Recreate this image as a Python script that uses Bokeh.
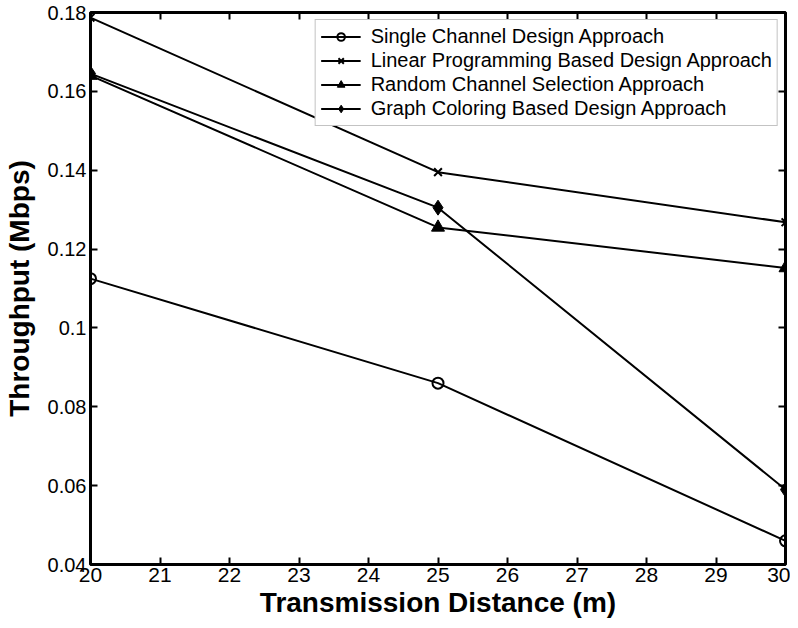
from bokeh.plotting import figure
from bokeh.models import Range1d, FixedTicker, LinearAxis, CustomJSTickFormatter, Legend
from bokeh.embed import file_html
from bokeh.resources import INLINE

distance = [20, 25, 30]
single_channel = [0.1125, 0.086, 0.046]
linear_programming = [0.1787, 0.1395, 0.1268]
random_channel = [0.164, 0.1255, 0.1152]
graph_coloring = [0.1645, 0.1305, 0.059]

x_ticks = list(range(20, 31))
y_ticks = [0.04, 0.06, 0.08, 0.10, 0.12, 0.14, 0.16, 0.18]

FONT = "Liberation Sans"

p = figure(width=790, height=620, output_backend="svg", toolbar_location=None,
           x_range=Range1d(20, 30), y_range=Range1d(0.04, 0.18),
           min_border_left=82, min_border_right=5, min_border_top=12, min_border_bottom=56)
p.grid.visible = False
p.outline_line_color = "black"
p.outline_line_width = 3
p.background_fill_color = "white"
p.border_fill_color = "white"

fmt = CustomJSTickFormatter(code="return String(Math.round(tick*100)/100)")

for ax in p.xaxis:
    ax.ticker = FixedTicker(ticks=x_ticks)
    ax.axis_label = "Transmission Distance (m)"
    ax.axis_label_text_font = FONT
    ax.axis_label_text_font_style = "bold"
    ax.axis_label_text_font_size = "28px"
    ax.axis_label_standoff = 2
    ax.major_label_text_font = FONT
    ax.major_label_text_font_size = "21px"
    ax.major_label_standoff = 3
for ax in p.yaxis:
    ax.ticker = FixedTicker(ticks=y_ticks)
    ax.formatter = fmt
    ax.axis_label = "Throughput (Mbps)"
    ax.axis_label_text_font = FONT
    ax.axis_label_text_font_style = "bold"
    ax.axis_label_text_font_size = "28px"
    ax.axis_label_standoff = 10
    ax.major_label_text_font = FONT
    ax.major_label_text_font_size = "20px"
    ax.major_label_standoff = 4
for ax in list(p.xaxis) + list(p.yaxis):
    ax.axis_line_color = None
    ax.major_tick_in = 7
    ax.major_tick_out = 0
    ax.major_tick_line_width = 2
    ax.minor_tick_line_color = None
    ax.major_label_text_color = "black"
    ax.axis_label_text_color = "black"

top = LinearAxis(ticker=FixedTicker(ticks=x_ticks), major_label_text_font_size="0px",
                 major_label_standoff=0, axis_line_color=None, major_tick_in=7,
                 major_tick_out=0, major_tick_line_width=2, minor_tick_line_color=None)
right = LinearAxis(ticker=FixedTicker(ticks=y_ticks), major_label_text_font_size="0px",
                   major_label_standoff=0, axis_line_color=None, major_tick_in=7,
                   major_tick_out=0, major_tick_line_width=2, minor_tick_line_color=None)
p.add_layout(top, "above")
p.add_layout(right, "right")

lw = 2
l1 = p.line(distance, single_channel, line_color="black", line_width=lw)
m1 = p.scatter(distance, single_channel, marker="circle", size=11, line_color="black",
               line_width=2, fill_color=None)
l2 = p.line(distance, linear_programming, line_color="black", line_width=lw)
m2 = p.scatter(distance, linear_programming, marker="x", size=11, line_color="black", line_width=2)
l3 = p.line(distance, random_channel, line_color="black", line_width=lw)
m3 = p.scatter(distance, random_channel, marker="triangle", size=13, line_color="black",
               fill_color="black", line_width=1)
l4 = p.line(distance, graph_coloring, line_color="black", line_width=lw)
m4 = p.scatter(distance, graph_coloring, marker="diamond", size=15, line_color="black",
               fill_color="black", line_width=1)

legend = Legend(items=[
    ("Single Channel Design Approach", [l1, m1]),
    ("Linear Programming Based Design Approach", [l2, m2]),
    ("Random Channel Selection Approach", [l3, m3]),
    ("Graph Coloring Based Design Approach", [l4, m4]),
], location="top_right")
legend.label_text_font = FONT
legend.label_text_font_size = "20px"
legend.label_text_color = "black"
legend.label_height = 19
legend.glyph_height = 19
legend.glyph_width = 40
legend.spacing = 1
legend.padding = 5
legend.margin = 7
legend.label_standoff = 10
legend.border_line_color = "#888888"
legend.border_line_width = 1
legend.background_fill_color = "white"
legend.background_fill_alpha = 1
p.add_layout(legend, "center")

open("out.html", "w").write(file_html(p, INLINE))
